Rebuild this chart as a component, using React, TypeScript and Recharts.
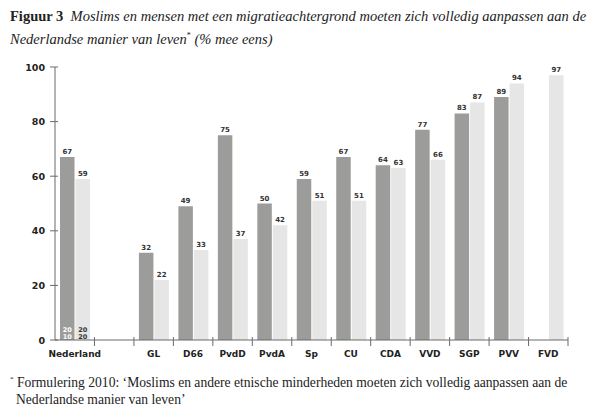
import { Bar, BarChart, LabelList, XAxis, YAxis } from 'recharts';

const categories = ['Nederland', '', 'GL', 'D66', 'PvdD', 'PvdA', 'Sp', 'CU', 'CDA', 'VVD', 'SGP', 'PVV', 'FVD'];
const values2010 = [67, null, 32, 49, 75, 50, 59, 67, 64, 77, 83, 89, null];
const values2020 = [59, null, 22, 33, 37, 42, 51, 51, 63, 66, 87, 94, 97];
const yTicks = [0, 20, 40, 60, 80, 100];
const years = ['2010', '2020'];

const DARK = '#9c9c9b';
const LIGHT = '#e6e6e6';
const AXIS = '#6b6b6b';
const TEXT = '#222';
const SANS = '"DejaVu Sans", sans-serif';
const SERIF = '"Liberation Serif", serif';

const data = categories.map((name, i) => ({
  name,
  y2010: values2010[i],
  y2020: values2020[i],
}));

function CategoryTick(props: any) {
  const { x, y, payload } = props;
  const half = payload.offset ?? 19.7;
  return (
    <g>
      <line x1={x + half} x2={x + half} y1={y - 3} y2={y + 6} stroke={AXIS} strokeWidth={1} />
      <text
        x={x}
        y={y + 17}
        textAnchor="middle"
        fontFamily={SANS}
        fontWeight="bold"
        fontSize={9}
        fill={TEXT}
      >
        {payload.value}
      </text>
    </g>
  );
}

function ValueTick(props: any) {
  const { x, y, payload } = props;
  return (
    <g>
      <line x1={x - 5} x2={x + 3} y1={y} y2={y} stroke={AXIS} strokeWidth={1} />
      <text
        x={x - 10}
        y={y + 3.5}
        textAnchor="end"
        fontFamily={SANS}
        fontWeight="bold"
        fontSize={9.5}
        fill={TEXT}
      >
        {payload.value}
      </text>
    </g>
  );
}

// year tag stacked at the foot of the first (Nederland) pair only
function yearTag(year: string, color: string) {
  return (props: any) => {
    const { x, y, width, height, index } = props;
    if (index !== 0) return null;
    const cx = x + width / 2;
    const bottom = y + height;
    return (
      <text textAnchor="middle" fontFamily={SANS} fontWeight="bold" fontSize={6.5} fill={color}>
        <tspan x={cx} y={bottom - 8}>{year.slice(0, 2)}</tspan>
        <tspan x={cx} y={bottom - 1.5}>{year.slice(2)}</tspan>
      </text>
    );
  };
}

export default function App() {
  return (
    <div style={{ position: 'absolute', left: 0, top: 0, width: 600, height: 419, background: '#fff' }}>
      <div
        style={{
          position: 'absolute',
          left: 10,
          top: 6,
          width: 590,
          fontFamily: SERIF,
          fontSize: 14.5,
          lineHeight: '20px',
          color: TEXT,
          whiteSpace: 'nowrap',
        }}
      >
        <div>
          <b>Figuur 3</b>
          <i>&nbsp; Moslims en mensen met een migratieachtergrond moeten zich volledig aanpassen aan de</i>
        </div>
        <div>
          <i>Nederlandse manier van leven</i>
          <sup style={{ fontSize: 8 }}>*</sup>
          <i> (% mee eens)</i>
        </div>
      </div>

      <div style={{ position: 'absolute', left: 0, top: 0 }}>
        <BarChart
          width={600}
          height={419}
          data={data}
          margin={{ top: 67, right: 32, left: 10, bottom: 59 }}
          barSize={14.5}
          barGap={1}
        >
          <XAxis
            dataKey="name"
            height={20}
            interval={0}
            tickSize={0}
            tickMargin={0}
            tickLine={false}
            axisLine={{ stroke: AXIS }}
            tick={<CategoryTick />}
          />
          <YAxis
            width={45}
            domain={[0, 100]}
            ticks={yTicks}
            tickSize={0}
            tickMargin={0}
            tickLine={false}
            axisLine={{ stroke: AXIS }}
            tick={<ValueTick />}
          />
          <Bar dataKey="y2010" fill={DARK} isAnimationActive={false}>
            <LabelList
              dataKey="y2010"
              position="top"
              offset={3}
              fontFamily={SANS}
              fontWeight="bold"
              fontSize={7}
              fill="#333"
            />
            <LabelList dataKey="y2010" content={yearTag(years[0], '#fff')} />
          </Bar>
          <Bar dataKey="y2020" fill={LIGHT} isAnimationActive={false}>
            <LabelList
              dataKey="y2020"
              position="top"
              offset={3}
              fontFamily={SANS}
              fontWeight="bold"
              fontSize={7}
              fill="#333"
            />
            <LabelList dataKey="y2020" content={yearTag(years[1], '#333')} />
          </Bar>
        </BarChart>
      </div>

      <div
        style={{
          position: 'absolute',
          left: 10,
          top: 371,
          width: 590,
          fontFamily: SERIF,
          fontSize: 13.6,
          lineHeight: '17px',
          color: TEXT,
          whiteSpace: 'nowrap',
        }}
      >
        <div>
          <sup style={{ fontSize: 7 }}>*</sup> Formulering 2010: ‘Moslims en andere etnische minderheden moeten zich volledig aanpassen aan de
        </div>
        <div style={{ paddingLeft: 6 }}>Nederlandse manier van leven’</div>
      </div>
    </div>
  );
}
